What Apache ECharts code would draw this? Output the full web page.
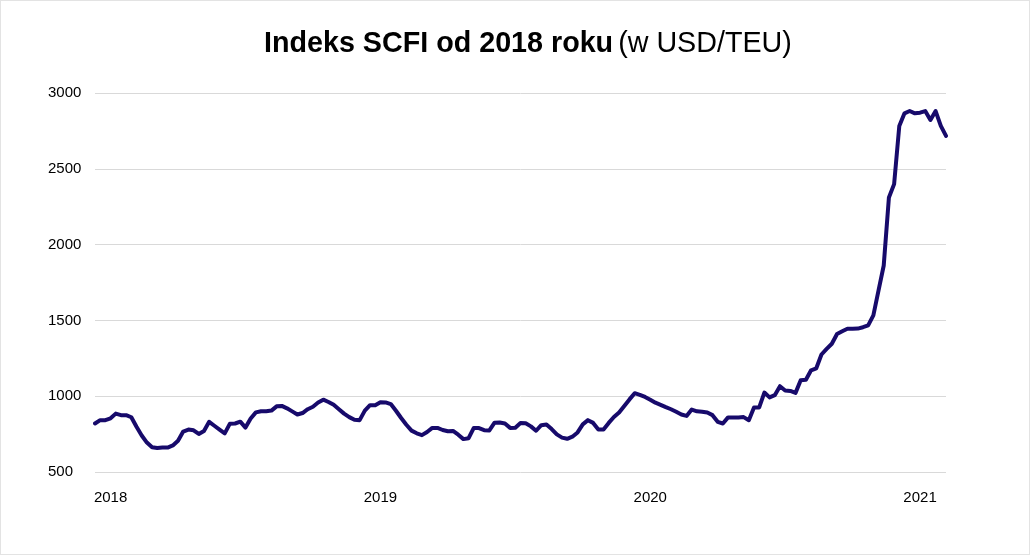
<!DOCTYPE html>
<html>
<head>
<meta charset="utf-8">
<script src="https://cdn.jsdelivr.net/npm/echarts@6/dist/echarts.min.js"></script>
<style>
  html, body { margin: 0; padding: 0; background: #fff; }
  #chart { width: 1030px; height: 555px; box-sizing: border-box; border: 1px solid #e3e3e3; }
</style>
</head>
<body>
<div id="chart"></div>
<script>
// weekly SCFI readings, first week 2017-12-15
const startDate = '2017-12-15';
const scfi = [
  820, 842, 842, 854, 885, 875, 875, 861, 798, 741,
  694, 663, 658, 661, 661, 675, 706, 767, 780, 775,
  751, 771, 831, 805, 780, 755, 819, 820, 832, 793,
  853, 893, 901, 901, 905, 933, 936, 920, 900, 879,
  889, 914, 930, 958, 977, 962, 943, 914, 885, 862,
  844, 842, 905, 941, 941, 960, 959, 948, 904, 856,
  812, 773, 755, 743, 764, 791, 791, 777, 769, 771,
  746, 717, 723, 791, 790, 776, 774, 825, 826, 820,
  791, 792, 823, 821, 801, 772, 809, 813, 783, 748,
  727, 719, 733, 761, 814, 842, 824, 781, 781, 824,
  863, 893, 936, 979, 1020, 1009, 995, 977, 957, 943,
  928, 914, 897, 879, 870, 912, 900, 897, 892, 875,
  831, 820, 860, 860, 860, 862, 842, 926, 926, 1024,
  992, 1007, 1066, 1038, 1035, 1022, 1105, 1108, 1171, 1184,
  1275, 1312, 1346, 1410, 1428, 1445, 1445, 1446, 1455, 1467,
  1533, 1698, 1862, 2311, 2399, 2783, 2866, 2881, 2866, 2870,
  2881, 2822, 2881, 2783, 2717
];
const yTicks = [500, 1000, 1500, 2000, 2500, 3000];

const weeks = [];
let d = new Date(startDate + 'T00:00:00Z');
for (let i = 0; i < scfi.length; i++) {
  weeks.push(d.toISOString().slice(0, 10));
  d = new Date(d.getTime() + 7 * 86400000);
}

const chart = echarts.init(document.getElementById('chart'));
chart.setOption({
  animation: false,
  textStyle: { fontFamily: 'Liberation Sans, Arial, sans-serif' },
  title: {
    text: '{b|Indeks SCFI od 2018 roku} {n|(w USD/TEU)}',
    left: 258,
    top: 24,
    textStyle: {
      rich: {
        b: { fontSize: 28.7, fontWeight: 'bold', color: '#000', fontFamily: 'Liberation Sans' },
        n: { fontSize: 28.7, fontWeight: 'normal', color: '#000', fontFamily: 'Liberation Sans' }
      }
    }
  },
  grid: { left: 94, right: 83, top: 92, bottom: 82 },
  xAxis: {
    type: 'category',
    data: weeks,
    boundaryGap: false,
    axisLine: { show: false },
    axisTick: { show: false },
    axisLabel: {
      color: '#000',
      fontSize: 15,
      margin: 18,
      interval: (idx, val) => idx > 0 && val.slice(0, 4) !== weeks[idx - 1].slice(0, 4),
      formatter: val => val.slice(0, 4)
    },
    splitLine: { show: false }
  },
  yAxis: {
    type: 'value',
    min: yTicks[0],
    max: yTicks[yTicks.length - 1],
    interval: 500,
    axisLine: { show: false },
    axisTick: { show: false },
    axisLabel: { color: '#000', fontSize: 15, align: 'left', margin: 47, formatter: v => String(v) },
    splitLine: { lineStyle: { color: '#d9d9d9', width: 1 } }
  },
  series: [{
    type: 'line',
    data: scfi,
    symbol: 'none',
    lineStyle: { color: '#170a6b', width: 4, cap: 'round', join: 'round' }
  }]
});
</script>
</body>
</html>
